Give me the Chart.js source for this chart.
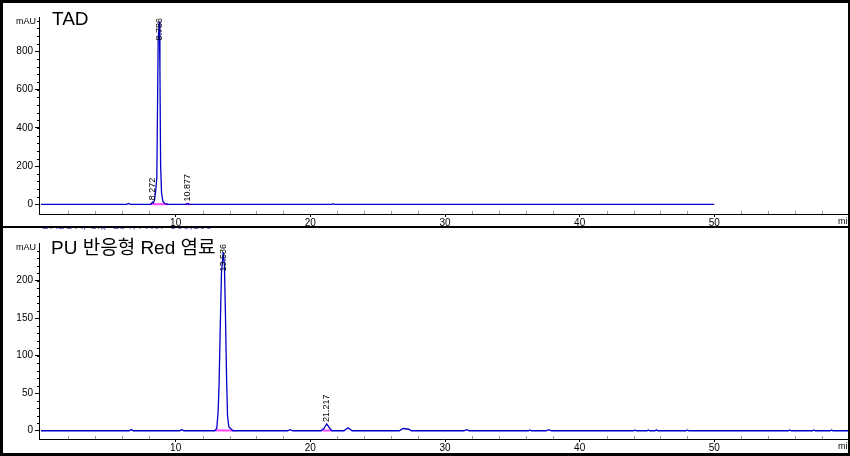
<!DOCTYPE html>
<html>
<head>
<meta charset="utf-8">
<script src="https://cdn.jsdelivr.net/npm/chart.js@4.4.1/dist/chart.umd.min.js"></script>
<style>
  html, body { margin: 0; padding: 0; background: #fff; }
  #wrap { position: relative; width: 850px; height: 456px; overflow: hidden; background: #fff; }
  canvas { position: absolute; left: 0; }
  .bar { position: absolute; background: #000; z-index: 5; }
  .title { position: absolute; font-family: "Liberation Sans", Arial, "Noto Sans CJK KR", sans-serif; font-size: 19px; line-height: 19px; color: #000; white-space: nowrap; z-index: 4; }
  #cut { position: absolute; left: 42px; top: 228px; width: 173px; height: 2px; overflow: hidden; z-index: 4; }
  #cut span { position: absolute; left: 0; top: -8px; font-family: "Liberation Sans", Arial, sans-serif; font-size: 11px; line-height: 11px; color: #5a4fc8; white-space: nowrap; letter-spacing: 0.3px; }
</style>
</head>
<body>
<div id="wrap">
  <canvas id="topChart" width="850" height="227" style="top:0px"></canvas>
  <canvas id="botChart" width="850" height="229" style="top:227px"></canvas>
  <div class="title" style="left:52px; top:9px;">TAD</div>
  <div class="title" style="left:51px; top:238px;">PU 반응형 Red 염료</div>
  <div id="cut"><span>DAD1 A, Sig=254,4 Ref=360,100 (PU RED DYE)</span></div>
  <div class="bar" style="left:0; top:0; width:850px; height:3px;"></div>
  <div class="bar" style="left:0; top:0; width:3px; height:456px;"></div>
  <div class="bar" style="left:848px; top:0; width:2px; height:456px;"></div>
  <div class="bar" style="left:0; top:453px; width:850px; height:3px;"></div>
  <div class="bar" style="left:0; top:226px; width:850px; height:2px;"></div>
</div>
<script>
// ---------------- DATA ----------------
// Top panel: TAD (time in min, absorbance in mAU)
const topTime = [0, 6.35, 6.5, 6.65, 8.1, 8.2, 8.272, 8.34, 8.42, 8.5, 8.6, 8.7, 8.786, 8.83, 8.88, 8.95, 9.05, 9.2, 9.45, 10.75, 10.877, 11.0, 21.55, 21.7, 21.85, 50];
const topAbs  = [0, 0,    5,   0,    0,   4,   12,    8,    20,   60,  140, 860, 955,   700,  210,  60,   15,   4,   0,    0,     5,      0,    0,     3,    0,     0];
const topPeakTimes  = [8.272, 8.786, 10.877];
const topPeakHeights = [12, 955, 5];
const topPeakLabels = ["8.272", "8.786", "10.877"];
const topBaseStart = [8.12, 10.72];
const topBaseEnd   = [9.45, 11.05];
const topYTicks = [0, 200, 400, 600, 800];

// Bottom panel: PU 반응형 Red 염료
const botTime = [0, 6.55, 6.7, 6.85, 10.3, 10.45, 10.6, 12.9, 13.05, 13.15, 13.22, 13.3, 13.4, 13.536, 13.62, 13.7, 13.78, 13.85, 13.95, 14.25,
                 18.3, 18.5, 18.7, 20.8, 21.0, 21.217, 21.45, 21.6, 22.5, 22.8, 23.1, 26.6, 26.9, 27.3, 27.5, 31.4, 31.6, 31.8,
                 36.2, 36.3, 36.4, 37.5, 37.7, 37.9, 44.0, 44.1, 44.2, 45.0, 45.1, 45.2, 45.6, 45.7, 45.8, 47.9, 48.0, 48.1,
                 55.5, 55.6, 55.7, 57.3, 57.4, 57.5, 58.6, 58.7, 58.8, 60];
const botAbs  = [0, 0, 1.5, 0, 0, 1.5, 0, 0, 3, 25, 60, 130, 210, 238, 220, 150, 70, 20, 5, 0,
                 0, 1.5, 0, 0, 3, 9, 3, 0, 0, 4, 0, 0, 3, 2, 0, 0, 1.5, 0,
                 0, 1, 0, 0, 1.5, 0, 0, 1, 0, 0, 1, 0, 0, 1.2, 0, 0, 1, 0,
                 0, 1, 0, 0, 1, 0, 0, 1, 0, 0];
const botPeakTimes  = [13.536, 21.217];
const botPeakHeights = [238, 9];
const botPeakLabels = ["13.536", "21.217"];
const botBaseStart = [12.95, 20.9];
const botBaseEnd   = [14.3, 21.6];
const botYTicks = [0, 50, 100, 150, 200];

const xTicks = [10, 20, 30, 40, 50];

// ---------------- HELPERS ----------------
const FONT = '"Liberation Sans Narrow", "Liberation Sans", Arial, sans-serif';
const TRACE = '#0000c8';
const PINK = '#ff44ff';

function pts(xs, ys) { return xs.map((x, i) => ({ x: x, y: ys[i] })); }

const decor = {
  id: 'decor',
  afterDraw(chart, args, opts) {
    const ctx = chart.ctx, xs = chart.scales.x, ys = chart.scales.y, a = chart.chartArea;
    ctx.save();
    ctx.strokeStyle = '#999'; ctx.lineWidth = 1;
    for (let t = 2; t < 60; t += 2) {
      if (t % 10 === 0) continue;
      const px = Math.round(xs.getPixelForValue(t)) + 0.5;
      ctx.beginPath(); ctx.moveTo(px, a.bottom - 3); ctx.lineTo(px, a.bottom); ctx.stroke();
    }
    ctx.strokeStyle = '#000';
    for (let v = opts.yMinor; v < ys.max; v += opts.yMinor) {
      const py = Math.round(ys.getPixelForValue(v)) + 0.5;
      ctx.beginPath(); ctx.moveTo(a.left - 2, py); ctx.lineTo(a.left, py); ctx.stroke();
    }
    ctx.fillStyle = '#000';
    ctx.font = '9px ' + FONT;
    ctx.textAlign = 'right'; ctx.textBaseline = 'middle';
    ctx.fillText('mAU', a.left - 3, a.top + 5);
    ctx.textAlign = 'left'; ctx.textBaseline = 'top';
    ctx.fillText('min', 838, a.bottom + opts.minDy);
    ctx.font = '9px ' + FONT;
    ctx.fillStyle = '#000';
    ctx.textAlign = 'left'; ctx.textBaseline = 'middle';
    opts.peakTimes.forEach((t, i) => {
      const txt = opts.peakLabels[i];
      const w = ctx.measureText(txt).width;
      const px = xs.getPixelForValue(t);
      let py = ys.getPixelForValue(opts.peakHeights[i]) - 2;
      py = Math.max(py, a.top + w + 1);
      ctx.save();
      ctx.translate(px, py);
      ctx.rotate(-Math.PI / 2);
      ctx.fillText(txt, 0, 0);
      ctx.restore();
    });
    ctx.restore();
  }
};

function makeChart(id, time, abs, baseS, baseE, yMin, yMax, yTicks, yMinor, topPad, xAxisH, peakT, peakH, peakL, minDy) {
  const datasets = [{
    data: pts(time, abs), borderColor: TRACE, borderWidth: 1.3, pointRadius: 0, tension: 0, order: 0
  }];
  baseS.forEach((s, i) => {
    datasets.push({ data: [{ x: s, y: 0.8 * (yMax - yMin) / 600 }, { x: baseE[i], y: 0.8 * (yMax - yMin) / 600 }],
      borderColor: PINK, borderWidth: 2, pointRadius: 0, order: 1 });
  });
  return new Chart(document.getElementById(id), {
    type: 'line',
    data: { datasets: datasets },
    options: {
      responsive: false, animation: false, devicePixelRatio: 1,
      layout: { autoPadding: false, padding: { left: 0, right: 1, top: topPad, bottom: 0 } },
      plugins: { legend: { display: false }, tooltip: { enabled: false },
        decor: { yMinor: yMinor, peakTimes: peakT, peakHeights: peakH, peakLabels: peakL, minDy: minDy } },
      scales: {
        x: {
          type: 'linear', min: -0.15, max: 60,
          afterBuildTicks: s => { s.ticks = xTicks.map(v => ({ value: v })); },
          afterFit: s => { s.height = xAxisH; },
          ticks: { color: '#000', font: { family: FONT, size: 10 }, padding: 0, maxRotation: 0, autoSkip: false },
          grid: { drawOnChartArea: false, drawTicks: true, tickLength: 3, color: '#000' },
          border: { color: '#000', width: 1 }
        },
        y: {
          type: 'linear', min: yMin, max: yMax,
          afterBuildTicks: s => { s.ticks = yTicks.map(v => ({ value: v })); },
          afterFit: s => { s.width = 39; },
          ticks: { color: '#000', font: { family: FONT, size: 10 }, padding: 2 },
          grid: { drawOnChartArea: false, drawTicks: true, tickLength: 4, color: '#000' },
          border: { color: '#000', width: 1 }
        }
      }
    },
    plugins: [decor]
  });
}

makeChart('topChart', topTime, topAbs, topBaseStart, topBaseEnd, -50, 980, topYTicks, 40, 17, 13,
  topPeakTimes, topPeakHeights, topPeakLabels, 3);
makeChart('botChart', botTime, botAbs, botBaseStart, botBaseEnd, -11, 250, botYTicks, 10, 16, 17,
  botPeakTimes, botPeakHeights, botPeakLabels, 3);
</script>
</body>
</html>
